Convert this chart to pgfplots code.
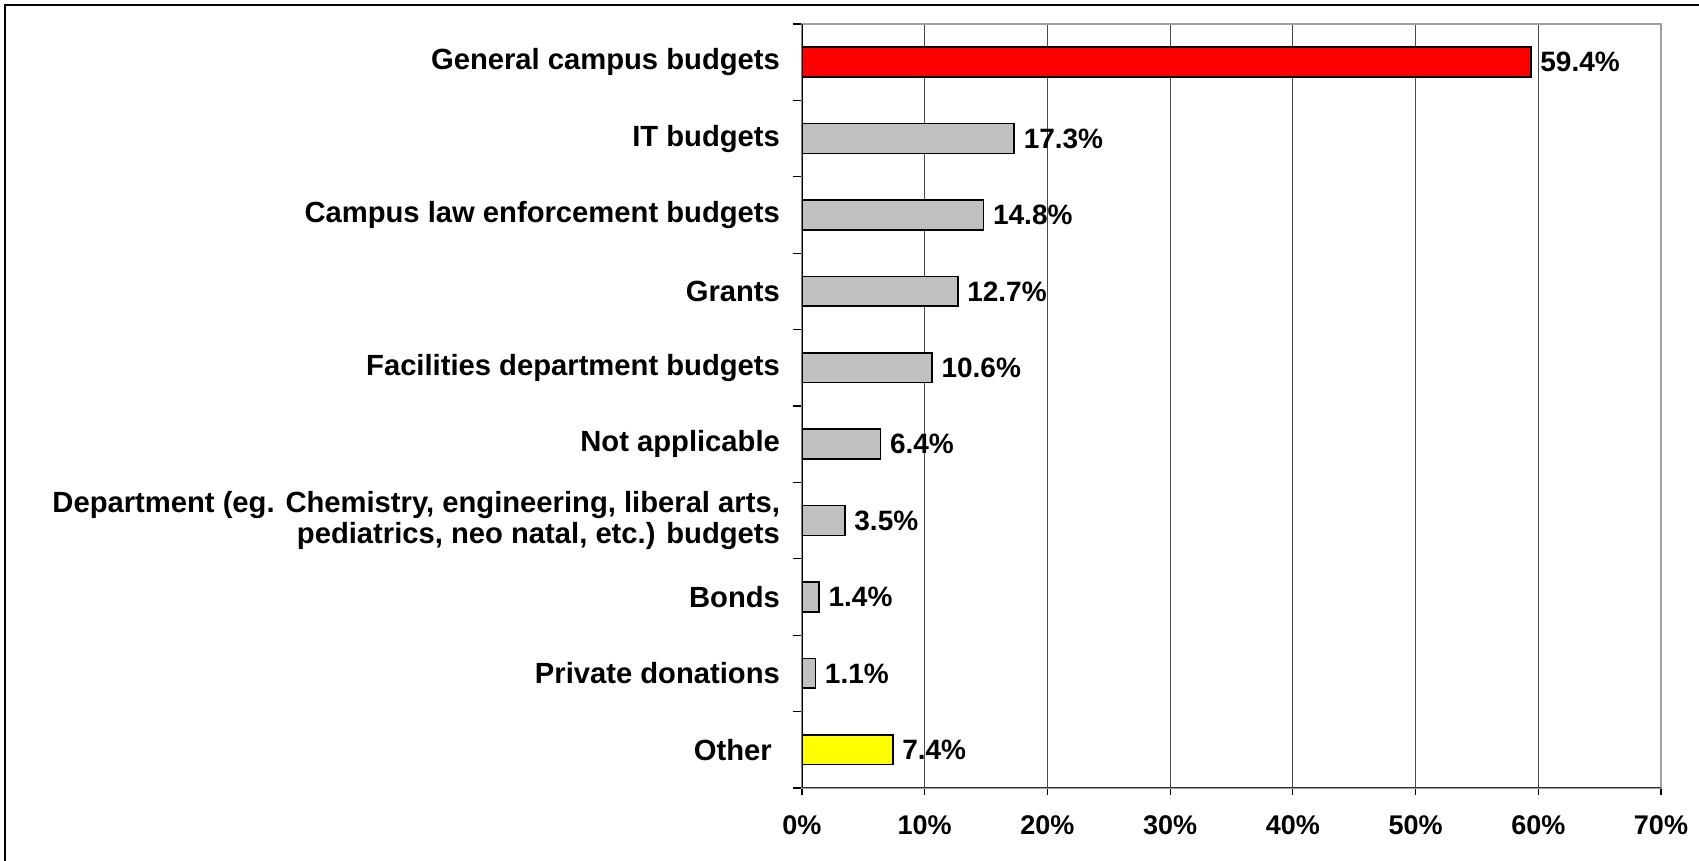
\documentclass[border=0pt]{standalone}
\usepackage{pgfplots}
\pgfplotsset{compat=1.18}
\usepackage{fontspec}
\setmainfont{Liberation Sans}
\definecolor{barred}{HTML}{FF0000}
\definecolor{bargray}{HTML}{C0C0C0}
\definecolor{baryellow}{HTML}{FFFF00}
\begin{document}
\begin{tikzpicture}[x=1pt,y=1pt]
\useasboundingbox (0,0) rectangle (849.5,430.5);
\draw[line width=0.8pt] (2.5,0) -- (2.5,428) -- (849.5,428);
\begin{axis}[
  at={(401pt,36.5pt)}, anchor=south west,
  width=429.5pt, height=382pt, scale only axis,
  xmin=0, xmax=70, ymin=-0.5, ymax=9.5,
  xbar, bar width=0.39,
  /pgf/number format/assume math mode=true,
  xtick={0,10,...,70},
  xticklabels={0\%,10\%,20\%,30\%,40\%,50\%,60\%,70\%},
  xticklabel style={font=\fontsize{13.5}{15}\selectfont\bfseries, yshift=-7pt},
  ytick={0,...,9},
  yticklabels={Other\ , Private donations, Bonds, {Department (eg. Chemistry, engineering, liberal arts,\\ pediatrics, neo natal, etc.) budgets}, Not applicable, Facilities department budgets, Grants, Campus law enforcement budgets, IT budgets, General campus budgets},
  yticklabel style={font=\fontsize{14.6}{15.5}\selectfont\bfseries, align=right, xshift=-4pt},
  minor ytick={-0.5,0.5,...,9.5},
  tick align=outside, tick pos=left,
  major tick length=3.5pt, minor tick length=4.5pt,
  major y tick style={draw=none},
  minor y tick style={black, line width=0.6pt},
  major x tick style={black, line width=0.6pt},
  xmajorgrids,
  grid style={gray!60!black, line width=0.5pt},
  axis line style={gray!75, line width=1pt},
  point meta=x,
  nodes near coords={\pgfmathprintnumber[fixed,fixed zerofill,precision=1]{\pgfplotspointmeta}\%},
  every node near coord/.append style={font=\fontsize{14}{16}\selectfont\bfseries, black, xshift=1pt},
]
\addplot[fill=barred, draw=black, line width=0.8pt, bar shift=0pt] coordinates {(59.4,9)};
\addplot[fill=bargray, draw=black, line width=0.8pt, bar shift=0pt] coordinates {
(17.3,8) (14.8,7) (12.7,6) (10.6,5) (6.4,4) (3.5,3) (1.4,2) (1.1,1)};
\addplot[fill=baryellow, draw=black, line width=0.8pt, bar shift=0pt] coordinates {(7.4,0)};
\draw[black, line width=0.8pt] (axis cs:0,-0.5) -- (axis cs:0,9.5);
\draw[gray!40!black, line width=0.8pt] (axis cs:0,-0.5) -- (axis cs:70,-0.5);
\end{axis}
\end{tikzpicture}
\end{document}
